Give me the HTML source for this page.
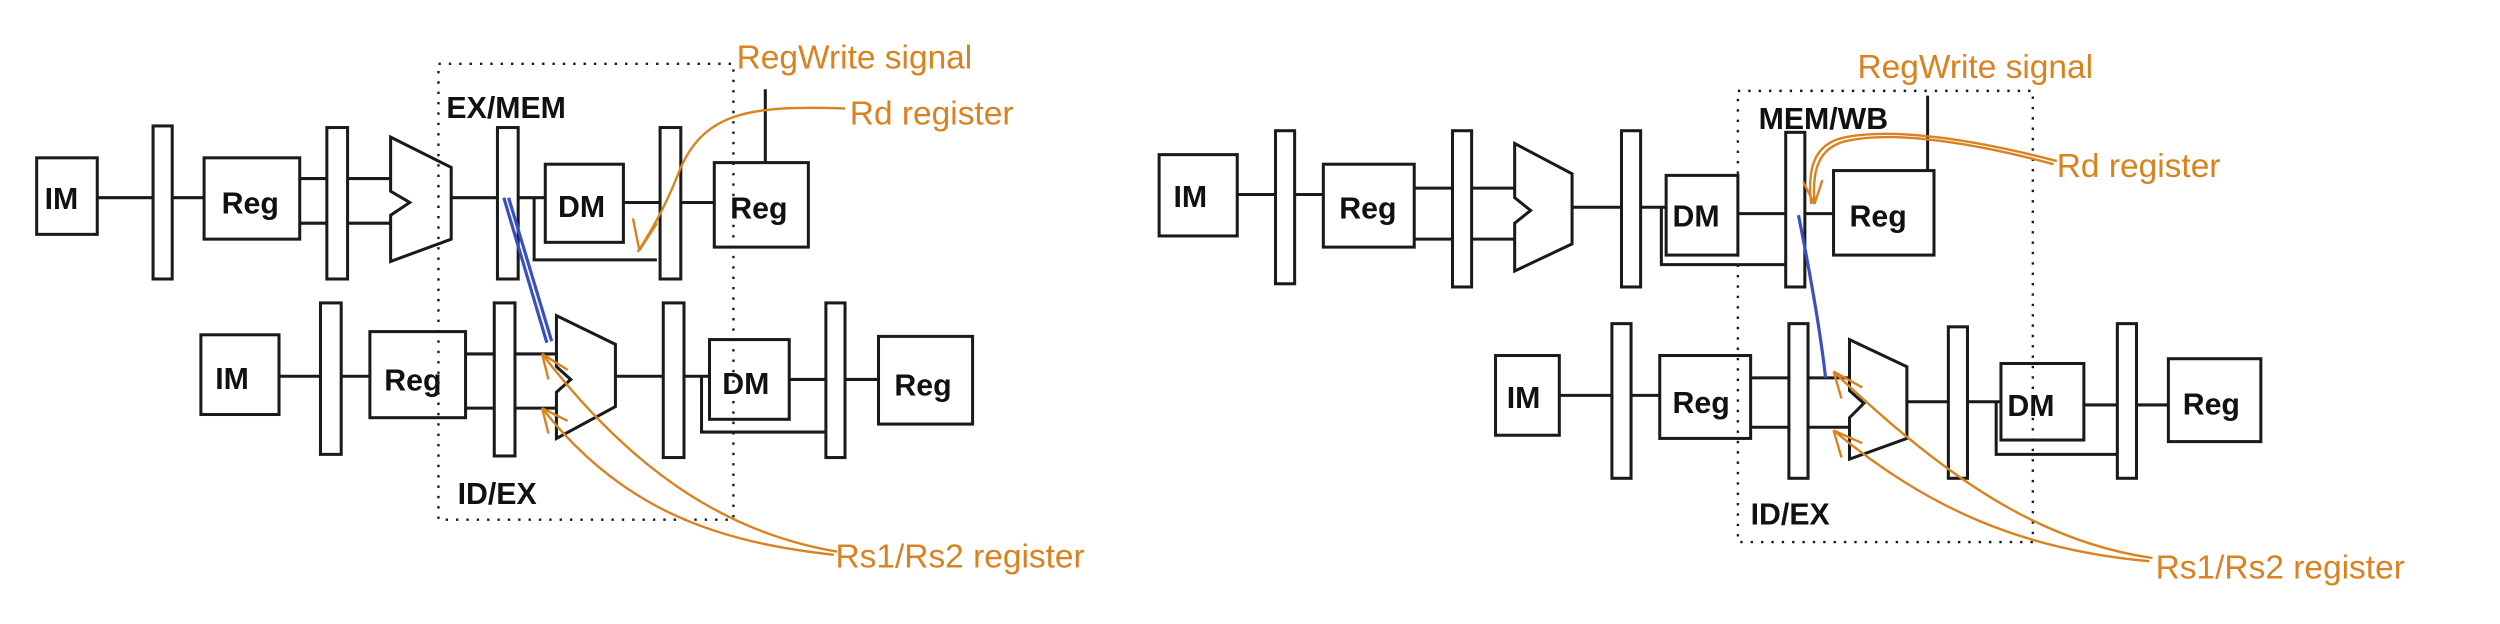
<!DOCTYPE html>
<html><head><meta charset="utf-8"><style>
html,body{margin:0;padding:0;background:#fff;}
svg{display:block}
text{font-family:"Liberation Sans","DejaVu Sans",sans-serif;}
.b{fill:none;stroke:#1a1a1a;stroke-width:1.9}
.w{fill:#fff;stroke:#1a1a1a;stroke-width:1.9}
.d{fill:none;stroke:#1a1a1a;stroke-width:1.5;stroke-dasharray:1.5 5}
.o{fill:none;stroke:#d9821f;stroke-width:1.5}
.bl{fill:none;stroke:#3a4fc0;stroke-width:2}
.t{font-size:19px;fill:#111;font-weight:bold}
.ot{font-size:21px;fill:#d9821f}
</style></head><body>
<svg width="2500" height="624" viewBox="0 0 1568 391.4" preserveAspectRatio="none" xmlns="http://www.w3.org/2000/svg">
<g>
<line class="b" x1="61" y1="124" x2="128" y2="124"/>
<line class="b" x1="188" y1="112" x2="245" y2="112"/>
<line class="b" x1="188" y1="140" x2="245" y2="140"/>
<line class="b" x1="283" y1="124" x2="342" y2="124"/>
<line class="b" x1="391" y1="127" x2="448" y2="127"/>
<polyline class="b" points="335,124 335,163 412,163"/>
<line class="b" x1="480" y1="102" x2="480" y2="56"/>
<rect class="w" x="23" y="99" width="38" height="48"/>
<rect class="w" x="96" y="79" width="12" height="96"/>
<rect class="w" x="128" y="99" width="60" height="51"/>
<rect class="w" x="205" y="80" width="13" height="95"/>
<polygon class="w" points="245,86 283,105 283,150 245,164 245,135 257,127 245,120"/>
<rect class="w" x="312" y="80" width="13" height="95"/>
<rect class="w" x="342" y="103" width="49" height="49"/>
<rect class="w" x="414" y="80" width="13" height="95"/>
<rect class="w" x="448" y="102" width="59" height="53"/>
<text class="t" x="28" y="131">IM</text>
<text class="t" x="139" y="134">Reg</text>
<text class="t" x="350" y="136">DM</text>
<text class="t" x="458" y="137">Reg</text>
</g>
<g>
<line class="b" x1="175" y1="236" x2="232" y2="236"/>
<line class="b" x1="292" y1="222" x2="349" y2="222"/>
<line class="b" x1="292" y1="256" x2="349" y2="256"/>
<line class="b" x1="386" y1="236" x2="445" y2="236"/>
<line class="b" x1="495" y1="238" x2="551" y2="238"/>
<polyline class="b" points="440,236 440,271 518,271"/>
<rect class="w" x="126" y="210" width="49" height="50"/>
<rect class="w" x="201" y="190" width="13" height="95"/>
<rect class="w" x="232" y="208" width="60" height="54"/>
<rect class="w" x="310" y="190" width="13" height="96"/>
<polygon class="w" points="349,198 386,216 386,255 349,275 349,246 358,238 349,230"/>
<rect class="w" x="416" y="190" width="13" height="97"/>
<rect class="w" x="445" y="213" width="50" height="50"/>
<rect class="w" x="518" y="190" width="12" height="97"/>
<rect class="w" x="551" y="211" width="59" height="55"/>
<text class="t" x="135" y="244">IM</text>
<text class="t" x="241" y="245">Reg</text>
<text class="t" x="453" y="247">DM</text>
<text class="t" x="561" y="248">Reg</text>
</g>
<rect class="d" x="275" y="40" width="185" height="286"/>
<text class="t" x="280" y="74">EX/MEM</text>
<text class="t" x="287" y="316">ID/EX</text>
<path class="bl" d="M316,124 L343,215 M319,124 L346,214"/>
<text class="ot" x="462" y="43">RegWrite signal</text>
<text class="ot" x="533" y="78">Rd register</text>
<text class="ot" x="524" y="356">Rs1/Rs2 register</text>
<path class="o" d="M530,68 C470,66 440,70 425,110 C415,135 405,150 400,158 M401,157 L397,137 M401,157 L412,140"/>
<path class="o" d="M525,346 C460,335 400,300 340,222 M523,348 C450,340 390,320 340,256 M340,222 L344,238 M340,222 L356,232 M340,256 L344,272 M340,256 L356,264"/>
<g>
<line class="b" x1="776" y1="122" x2="830" y2="122"/>
<line class="b" x1="887" y1="118" x2="950" y2="118"/>
<line class="b" x1="887" y1="150" x2="950" y2="150"/>
<line class="b" x1="986" y1="130" x2="1045" y2="130"/>
<line class="b" x1="1090" y1="134" x2="1150" y2="134"/>
<polyline class="b" points="1042,130 1042,166 1120,166"/>
<line class="b" x1="1209" y1="107" x2="1209" y2="60"/>
<rect class="w" x="727" y="97" width="49" height="51"/>
<rect class="w" x="800" y="82" width="12" height="96"/>
<rect class="w" x="830" y="103" width="57" height="52"/>
<rect class="w" x="911" y="82" width="12" height="98"/>
<polygon class="w" points="950,90 986,109 986,153 950,170 950,140 960,132 950,124"/>
<rect class="w" x="1017" y="82" width="12" height="98"/>
<rect class="w" x="1045" y="110" width="45" height="50"/>
<rect class="w" x="1120" y="83" width="12" height="97"/>
<rect class="w" x="1150" y="107" width="63" height="53"/>
<text class="t" x="736" y="130">IM</text>
<text class="t" x="840" y="137">Reg</text>
<text class="t" x="1049" y="142">DM</text>
<text class="t" x="1160" y="142">Reg</text>
</g>
<g>
<line class="b" x1="978" y1="248" x2="1041" y2="248"/>
<line class="b" x1="1098" y1="237" x2="1160" y2="237"/>
<line class="b" x1="1098" y1="268" x2="1160" y2="268"/>
<line class="b" x1="1196" y1="252" x2="1255" y2="252"/>
<line class="b" x1="1307" y1="254" x2="1360" y2="254"/>
<polyline class="b" points="1252,252 1252,285 1328,285"/>
<rect class="w" x="938" y="223" width="40" height="50"/>
<rect class="w" x="1011" y="203" width="12" height="97"/>
<rect class="w" x="1041" y="223" width="57" height="52"/>
<rect class="w" x="1122" y="203" width="12" height="97"/>
<polygon class="w" points="1160,213 1196,230 1196,275 1160,288 1160,262 1169,253 1160,245"/>
<rect class="w" x="1222" y="205" width="12" height="95"/>
<rect class="w" x="1255" y="228" width="52" height="48"/>
<rect class="w" x="1328" y="203" width="12" height="97"/>
<rect class="w" x="1360" y="225" width="58" height="52"/>
<text class="t" x="945" y="256">IM</text>
<text class="t" x="1049" y="259">Reg</text>
<text class="t" x="1259" y="261">DM</text>
<text class="t" x="1369" y="260">Reg</text>
</g>
<rect class="d" x="1090" y="57" width="185" height="283"/>
<text class="t" x="1103" y="81">MEM/WB</text>
<text class="t" x="1098" y="329">ID/EX</text>
<path class="bl" d="M1128,135 C1135,170 1142,210 1145,237"/>
<text class="ot" x="1165" y="49">RegWrite signal</text>
<text class="ot" x="1290" y="111">Rd register</text>
<text class="ot" x="1352" y="363">Rs1/Rs2 register</text>
<path class="o" d="M1288,103 C1240,90 1190,82 1160,88 C1138,92 1137,110 1138,128 M1290,101 C1240,88 1190,80 1158,86 C1135,90 1134,110 1136,128 M1138,128 L1131,114 M1138,128 L1143,113"/>
<path class="o" d="M1350,350 C1280,340 1220,300 1150,233 M1348,352 C1270,345 1210,320 1150,270 M1150,233 L1155,250 M1150,233 L1168,243 M1150,270 L1155,287 M1150,270 L1168,278"/>
</svg>
</body></html>
